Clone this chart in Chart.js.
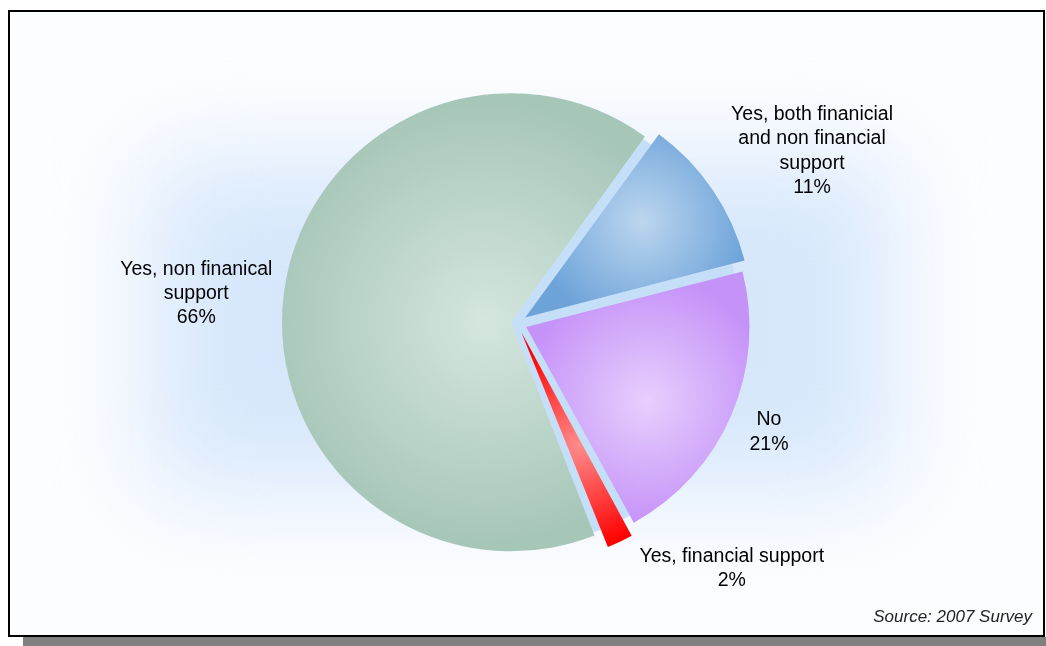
<!DOCTYPE html>
<html>
<head>
<meta charset="utf-8">
<script src="https://cdn.jsdelivr.net/npm/chart.js@4.4.1/dist/chart.umd.min.js"></script>
<style>
  html, body { margin: 0; padding: 0; background: #fff; }
  #wrap { width: 1046px; height: 646px; }
</style>
</head>
<body>
<div id="wrap"><canvas id="supportPie" width="1046" height="646"></canvas></div>
<script>
// slice text (one entry per line) and shares in percent
var labels = [
    ['Yes, both finanicial', 'and non financial', 'support'],
    ['No'],
    ['Yes, financial support'],
    ['Yes, non finanical', 'support']
];
var shares = [11, 21, 2, 66];
var sourceNote = 'Source: 2007 Survey';

// shading: light in the middle of each slice, deeper towards its edges
var innerColors = ['#bcd6ef', '#e7cffd', '#ff8c8c', '#d5e6de'];
var outerColors = ['#6da3d9', '#c592f8', '#ff0000', '#a6c6b8'];
// Chart.js moves an arc by a quarter of its offset option
var sliceOffsets = [40, 40, 40, 24];
var labelTurn = [4, 0, -16, -2];   // degrees, moves a label off the slice mid-line
var startAngle = 36;
var pieRadius = 223;

function sliceGradient(c) {
    var i = c.dataIndex;
    var chart = c.chart;
    var area = chart.chartArea;
    if (c.type !== 'data' || !area) return outerColors[i] || '#ccc';
    var cx = (area.left + area.right) / 2, cy = (area.top + area.bottom) / 2;
    var total = shares.reduce(function (a, b) { return a + b; }, 0);
    var before = 0;
    for (var k = 0; k < i; k++) before += shares[k];
    var a0 = (startAngle - 90) * Math.PI / 180 + before / total * 2 * Math.PI;
    var a1 = a0 + shares[i] / total * 2 * Math.PI;
    var mid = (a0 + a1) / 2;
    var shift = sliceOffsets[i] / 4;
    var ox = Math.cos(mid) * shift, oy = Math.sin(mid) * shift;
    // bounding box of the sector, gradient sits in its middle
    var xs = [0], ys = [0];
    for (var s = 0; s <= 36; s++) {
        var a = a0 + (a1 - a0) * s / 36;
        xs.push(Math.cos(a) * pieRadius);
        ys.push(Math.sin(a) * pieRadius);
    }
    var minX = Math.min.apply(null, xs), maxX = Math.max.apply(null, xs);
    var minY = Math.min.apply(null, ys), maxY = Math.max.apply(null, ys);
    var gx = cx + ox + (minX + maxX) / 2, gy = cy + oy + (minY + maxY) / 2;
    if (shares[i] > 50) gx = (gx + cx) / 2;
    var gr = Math.max(maxX - minX, maxY - minY) / 2;
    var g = chart.ctx.createRadialGradient(gx, gy, 0, gx, gy, gr);
    g.addColorStop(0, innerColors[i]);
    g.addColorStop(1, outerColors[i]);
    return g;
}

var backdrop = {
    id: 'backdrop',
    beforeDraw: function (chart) {
        var ctx = chart.ctx, W = chart.width, H = chart.height;
        ctx.save();
        ctx.fillStyle = '#ffffff';
        ctx.fillRect(0, 0, W, H);
        ctx.fillStyle = '#808080';
        ctx.fillRect(23, H - 9, W - 23, 9);
        ctx.fillStyle = '#fcfdff';
        ctx.fillRect(9, 11, W - 11, H - 21);
        ctx.beginPath();
        ctx.rect(9, 11, W - 11, H - 21);
        ctx.clip();
        ctx.filter = 'blur(50px)';
        ctx.fillStyle = '#d6e7fb';
        ctx.fillRect(150, 160, 740, 330);
        ctx.filter = 'none';
        ctx.restore();
        ctx.save();
        ctx.strokeStyle = '#000';
        ctx.lineWidth = 2;
        ctx.strokeRect(9, 11, W - 11, H - 21);
        ctx.restore();
    },
    beforeDatasetsDraw: function (chart) {
        // pale disc under the pie shows through between exploded slices
        var arc = chart.getDatasetMeta(0).data[0];
        if (!arc) return;
        var ctx = chart.ctx;
        ctx.save();
        ctx.fillStyle = '#c6dff8';
        ctx.beginPath();
        ctx.arc(arc.x, arc.y, arc.outerRadius, 0, Math.PI * 2);
        ctx.fill();
        ctx.restore();
    }
};

var sliceLabels = {
    id: 'sliceLabels',
    afterDatasetsDraw: function (chart) {
        var ctx = chart.ctx;
        var meta = chart.getDatasetMeta(0);
        var lineH = 24.3;
        ctx.save();
        ctx.font = '19.5px "Liberation Sans", Arial, sans-serif';
        ctx.fillStyle = '#000';
        ctx.textAlign = 'center';
        ctx.textBaseline = 'middle';
        meta.data.forEach(function (arc, i) {
            var p = arc.getProps(['x', 'y', 'startAngle', 'endAngle', 'outerRadius'], true);
            var mid = (p.startAngle + p.endAngle) / 2 + labelTurn[i] * Math.PI / 180;
            var lines = labels[i].concat([shares[i] + '%']);
            var w = Math.max.apply(null, lines.map(function (t) { return ctx.measureText(t).width; }));
            var h = lines.length * lineH;
            var dx = Math.cos(mid), dy = Math.sin(mid);
            var dist = p.outerRadius + (arc.options.offset || 0) / 4 + 14 + Math.abs(dx) * w / 2 + Math.abs(dy) * h / 2;
            var bx = p.x + dx * dist, by = p.y + dy * dist;
            lines.forEach(function (t, j) {
                ctx.fillText(t, bx, by + (j - (lines.length - 1) / 2) * lineH);
            });
        });
        ctx.font = 'italic 17px "Liberation Sans", Arial, sans-serif';
        ctx.fillStyle = '#222';
        ctx.textAlign = 'right';
        ctx.textBaseline = 'alphabetic';
        ctx.fillText(sourceNote, chart.width - 14, 622);
        ctx.restore();
    }
};

var ctx = document.getElementById('supportPie').getContext('2d');
var supportPie = new Chart(ctx, {
    type: 'pie',
    data: {
        labels: labels.map(function (l) { return l.join(' '); }),
        datasets: [{
            data: shares,
            backgroundColor: sliceGradient,
            borderWidth: 0,
            offset: sliceOffsets,
            hoverOffset: 0
        }]
    },
    options: {
        responsive: false,
        animation: false,
        rotation: startAngle,
        radius: pieRadius,
        layout: { padding: { left: 40, right: 52, top: 40, bottom: 40 } },
        plugins: {
            legend: { display: false },
            tooltip: { enabled: false }
        }
    },
    plugins: [backdrop, sliceLabels]
});
</script>
</body>
</html>
